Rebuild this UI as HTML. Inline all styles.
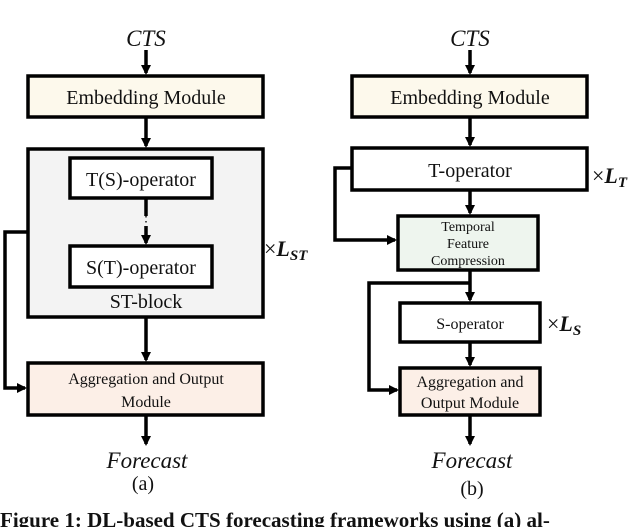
<!DOCTYPE html>
<html><head><meta charset="utf-8"><style>
html,body{margin:0;padding:0;background:#fff}
svg{display:block}
text{font-family:"Liberation Serif",serif;fill:#111}
</style></head><body>
<svg width="640" height="527" viewBox="0 0 640 527" xmlns="http://www.w3.org/2000/svg">
<defs>
<marker id="a" markerWidth="10" markerHeight="10" refX="8" refY="5" orient="auto" markerUnits="userSpaceOnUse">
<path d="M0,0 L10,5 L0,10 z" fill="#000"/></marker>
</defs>
<g stroke="#000" stroke-width="3.5" fill="none">
<!-- left -->
<line x1="146" y1="50" x2="146" y2="73" marker-end="url(#a)"/>
<rect x="28" y="76" width="235" height="41" fill="#fdf9ec"/>
<line x1="146" y1="117" x2="146" y2="146" marker-end="url(#a)"/>
<rect x="28" y="149" width="235" height="168" fill="#f3f3f3"/>
<rect x="70" y="158" width="142" height="40" fill="#fff"/>
<line x1="146" y1="198" x2="146" y2="216"/>
<line x1="146" y1="226" x2="146" y2="243" marker-end="url(#a)"/>
<rect x="70" y="246" width="142" height="41" fill="#fff"/>
<line x1="146" y1="317" x2="146" y2="360" marker-end="url(#a)"/>
<polyline points="28,232 5,232 5,388 25,388" marker-end="url(#a)"/>
<rect x="28" y="363" width="235" height="52" fill="#fcefe7"/>
<line x1="146" y1="415" x2="146" y2="444" marker-end="url(#a)"/>
<!-- right -->
<line x1="470" y1="50" x2="470" y2="73" marker-end="url(#a)"/>
<rect x="352" y="76" width="235" height="41" fill="#fdf9ec"/>
<line x1="470" y1="117" x2="470" y2="145" marker-end="url(#a)"/>
<rect x="352" y="148" width="235" height="42" fill="#fff"/>
<line x1="470" y1="190" x2="470" y2="213" marker-end="url(#a)"/>
<polyline points="352,168 335,168 335,240 395,240" marker-end="url(#a)"/>
<rect x="398" y="216" width="140" height="54" fill="#eef5ee"/>
<line x1="470" y1="270" x2="470" y2="300" marker-end="url(#a)"/>
<polyline points="470,283 369,283 369,390 397,390" marker-end="url(#a)"/>
<rect x="400" y="303" width="140" height="39" fill="#fff"/>
<line x1="470" y1="342" x2="470" y2="365" marker-end="url(#a)"/>
<rect x="400" y="368" width="140" height="47" fill="#fcefe7"/>
<line x1="470" y1="415" x2="470" y2="444" marker-end="url(#a)"/>
</g>
<g font-size="23" font-style="italic" text-anchor="middle">
<text x="146" y="46">CTS</text><text x="470" y="46">CTS</text>
<text x="147" y="468">Forecast</text><text x="472" y="468">Forecast</text>
</g>
<g font-size="20" text-anchor="middle">
<text x="146" y="104">Embedding Module</text>
<text x="470" y="104">Embedding Module</text>
<text x="141" y="186">T(S)-operator</text>
<text x="141" y="274">S(T)-operator</text>
<text x="146" y="308">ST-block</text>
<text x="470" y="177">T-operator</text>
<text x="143" y="490">(a)</text><text x="472" y="495">(b)</text>
</g>
<text x="146" y="226" font-size="14" text-anchor="middle">⋮</text>
<g font-size="16" text-anchor="middle">
<text x="146" y="384">Aggregation and Output</text>
<text x="146" y="407">Module</text>
<text x="470" y="329">S-operator</text>
<text x="470" y="387">Aggregation and</text>
<text x="470" y="408">Output Module</text>
</g>
<g font-size="14" text-anchor="middle">
<text x="468" y="231">Temporal</text>
<text x="468" y="248">Feature</text>
<text x="468" y="265">Compression</text>
</g>
<g font-size="22" font-weight="bold" font-style="italic">
<text x="264" y="256"><tspan font-weight="normal" font-style="normal">×</tspan>L<tspan font-size="15" dy="4">ST</tspan></text>
<text x="592" y="183"><tspan font-weight="normal" font-style="normal">×</tspan>L<tspan font-size="15" dy="4">T</tspan></text>
<text x="547" y="331"><tspan font-weight="normal" font-style="normal">×</tspan>L<tspan font-size="15" dy="4">S</tspan></text>
</g>
<text x="0" y="527" font-size="21" font-weight="bold">Figure 1: DL-based CTS forecasting frameworks using (a) al-</text>
</svg>
</body></html>
